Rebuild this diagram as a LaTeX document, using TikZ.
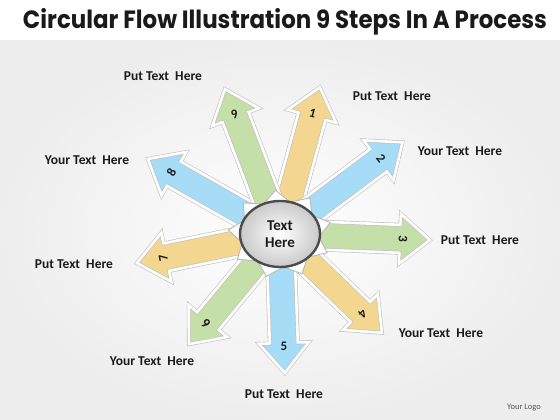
\documentclass[tikz,border=0pt]{standalone}
\usepackage{graphicx}
\usepackage{fontspec}
\setmainfont{Carlito}
\newfontfamily\titlefont{Poppins}
\usetikzlibrary{shapes.geometric,calc}
\definecolor{yel}{HTML}{F3D68F}
\definecolor{blu}{HTML}{A6DCF5}
\definecolor{grn}{HTML}{C5DFA8}
\definecolor{ink}{HTML}{1A1A1A}
\tikzset{
  flowbody/.style={fill=#1, draw=gray!50, line width=3.8pt, line join=miter,
    postaction={draw=white, line width=2.6pt}},
  numlabel/.style={font=\bfseries\fontsize{13}{13}\selectfont, text=ink, inner sep=0pt},
  sidelabel/.style={font=\bfseries\fontsize{13.5}{15}\selectfont, text=ink, inner sep=0pt},
}
% #1 name, #2 angle, #3 length, #4 colour, #5 number, #6 number rotation
\newcommand\flowarrow[6]{%
  \begin{scope}[shift={(C)}, rotate=#2]
    \path[flowbody=#4] (6,-14) -- ({#3-30},-14) -- ({#3-30},-25) -- (#3,0)
      -- ({#3-30},25) -- ({#3-30},14) -- (6,14) -- cycle;
    \node[numlabel, rotate=#6] (n#1) at ({#3-27},0) {#5};
  \end{scope}}
\begin{document}
\begin{tikzpicture}[x=1pt,y=1pt]
  \useasboundingbox (0,0) rectangle (560,420);
  \fill[white] (0,0) rectangle (560,420);
  \shade[inner color=white, outer color=gray!14] (0,0) rectangle (560,380);
  \fill[white] (0,380) rectangle (560,420);
  \node[font=\titlefont\bfseries, text=ink, inner sep=0pt, anchor=base] (title) at (285,391)
    {\resizebox{524pt}{20pt}{Circular Flow Illustration 9 Steps In A Process}};
  \coordinate (C) at (280,186);
  \flowarrow{1}{74.8}{152}{yel}{1}{-15}
  \flowarrow{2}{36.8}{153}{blu}{2}{-53}
  \flowarrow{3}{-2.3}{150}{grn}{3}{-92}
  \flowarrow{4}{-44.1}{142}{yel}{4}{-134}
  \flowarrow{5}{-88}{139}{blu}{5}{0}
  \flowarrow{6}{-129.6}{143}{grn}{6}{140}
  \flowarrow{7}{-168.5}{146}{yel}{7}{101}
  \flowarrow{8}{150.4}{152}{blu}{8}{60}
  \flowarrow{9}{110.8}{155}{grn}{9}{20}
  % star behind the hub
  \begin{scope}[shift={(C)}]
    \path[fill=white, draw=gray!55, line width=0.9pt] (55:52 and 44)
      \foreach \k in {0,...,8} { -- ({75+40*\k}:39 and 33) -- ({95+40*\k}:52 and 44) } -- cycle;
  \end{scope}
  \node[ellipse, minimum width=80pt, minimum height=66pt, inner sep=0pt,
    draw=gray!60!black, line width=2.4pt, inner color=white, outer color=gray!42,
    font=\bfseries\fontsize{15}{17}\selectfont, text=ink, align=center] (hub) at (C) {Text\\Here};
  \node[sidelabel] (t9) at (163,344) {Put Text~~Here};
  \node[sidelabel] (t1) at (392,324) {Put Text~~Here};
  \node[sidelabel] (t8) at (87,260) {Your Text~~Here};
  \node[sidelabel] (t2) at (460,269) {Your Text~~Here};
  \node[sidelabel] (t3) at (480,180) {Put Text~~Here};
  \node[sidelabel] (t7) at (74,156) {Put Text~~Here};
  \node[sidelabel] (t4) at (441,87) {Your Text~~Here};
  \node[sidelabel] (t6) at (152,59) {Your Text~~Here};
  \node[sidelabel] (t5) at (284,26) {Put Text~~Here};
  \node[font=\fontsize{8.5}{9}\selectfont, text=gray!70!black, inner sep=0pt] (logo) at (524,12) {Your Logo};
\end{tikzpicture}
\end{document}
